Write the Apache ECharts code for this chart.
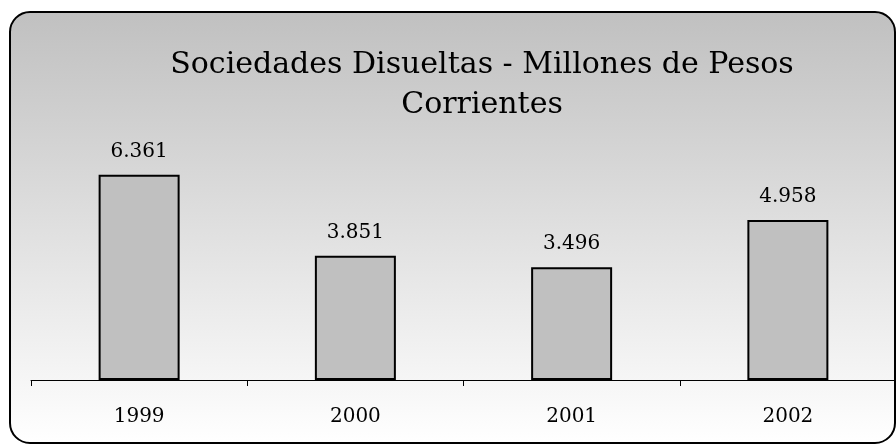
<!DOCTYPE html>
<html><head><meta charset="utf-8">
<script src="https://cdn.jsdelivr.net/npm/echarts@6/dist/echarts.min.js"></script>
<style>html,body{margin:0;padding:0;background:#fff}#c{width:896px;height:444px}</style>
</head><body><div id="c"></div>
<script>
var titleText = 'Sociedades Disueltas - Millones de Pesos\nCorrientes';
var categories = ['1999', '2000', '2001', '2002'];
var values = [6361, 3851, 3496, 4958];

function fmt(v){ var s=String(v); return s.replace(/\B(?=(\d{3})+(?!\d))/g,'.'); }

var chart = echarts.init(document.getElementById('c'), null, {renderer:'canvas'});
var serif = '"DejaVu Serif", "Liberation Serif", serif';
chart.setOption({
  animation:false,
  backgroundColor:'#ffffff',
  graphic:[{
    type:'rect', z:-10, silent:true,
    shape:{x:10, y:12, width:885, height:431, r:20},
    style:{
      fill:new echarts.graphic.LinearGradient(0,0,0,1,[{offset:0,color:'#c0c0c0'},{offset:1,color:'#ffffff'}]),
      stroke:'#000', lineWidth:2
    }
  }],
  title:{
    text:titleText, left:477, top:40, textAlign:'center',
    textStyle:{fontFamily:serif, fontSize:30, fontWeight:'normal', color:'#000', lineHeight:40}
  },
  grid:{left:31, top:154, width:872, height:226},
  xAxis:{
    type:'category', data:categories,
    axisLine:{lineStyle:{color:'#000', width:1}},
    axisTick:{show:true, length:6, lineStyle:{color:'#000'}},
    axisLabel:{fontFamily:serif, fontSize:20, color:'#000', margin:27}
  },
  yAxis:{type:'value', min:0, max:7000, show:false, splitLine:{show:false}},
  series:[{
    type:'bar', data:values, barWidth:81,
    itemStyle:{color:'#c0c0c0', borderColor:'#000', borderWidth:2},
    label:{show:true, position:'top', distance:13, fontFamily:serif, fontSize:20, color:'#000', formatter:function(p){return fmt(p.value);}}
  }]
});
</script></body></html>
